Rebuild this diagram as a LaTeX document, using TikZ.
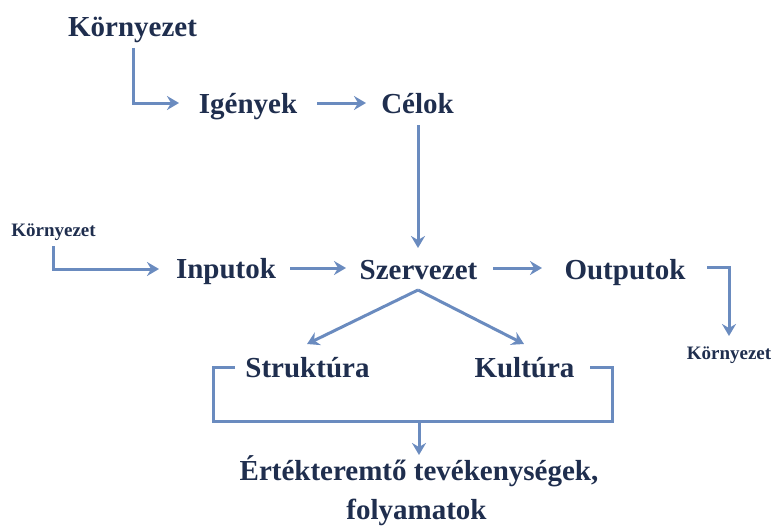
\documentclass[tikz,border=0pt]{standalone}
\usepackage{fontspec}
\setmainfont{Liberation Serif}
\usetikzlibrary{arrows.meta}
\definecolor{txt}{HTML}{1F2E4E}
\definecolor{ln}{HTML}{6A8BBF}
\tikzset{
  big/.style={inner sep=0pt, anchor=base, text=txt, font=\fontsize{29}{33}\selectfont\bfseries},
  small/.style={inner sep=0pt, anchor=base, text=txt, font=\fontsize{19}{22}\selectfont\bfseries},
  conn/.style={draw=ln, line width=3pt},
  arr/.style={conn, -{Stealth[length=12pt,width=14pt,inset=4pt]}}
}
\begin{document}
\begin{tikzpicture}[x=1pt,y=-1pt]
\useasboundingbox (0,0) rectangle (771,527);
% text nodes
\node[big] (kt) at (132.5,37) {Környezet};
\node[big] (ig) at (248,113) {Igények};
\node[big] (ce) at (417.5,113) {Célok};
\node[small] (kl) at (53.5,236) {Környezet};
\node[big] (in) at (226,278) {Inputok};
\node[big] (sz) at (418.5,279) {Szervezet};
\node[big] (ou) at (625,279) {Outputok};
\node[small] (kr) at (729,359) {Környezet};
\node[big] (st) at (307.5,377) {Struktúra};
\node[big] (ku) at (524.5,377) {Kultúra};
\node[big] (er) at (419,480) {Értékteremtő tevékenységek,};
\node[big] (fo) at (416.5,519) {folyamatok};
% connector end points
\coordinate (a1) at (133,48);
\coordinate (a2) at (133,103);
\coordinate (a3) at (179,103);
\coordinate (b1) at (317,103);
\coordinate (b2) at (366,103);
\coordinate (c1) at (418,125);
\coordinate (c2) at (418,248);
\coordinate (d1) at (53,246);
\coordinate (d2) at (53,269);
\coordinate (d3) at (159,269);
\coordinate (e1) at (290,268);
\coordinate (e2) at (346,268);
\coordinate (f1) at (493,268);
\coordinate (f2) at (542,268);
\coordinate (g1) at (707,267);
\coordinate (g2) at (729,267);
\coordinate (g3) at (729,336);
\coordinate (h0) at (418,290);
\coordinate (h1) at (307,344);
\coordinate (h2) at (524,344);
\coordinate (i1) at (235,367);
\coordinate (i2) at (213,367);
\coordinate (i3) at (213,421);
\coordinate (i4) at (612,421);
\coordinate (i5) at (612,367);
\coordinate (i6) at (590,367);
\coordinate (j1) at (419,421);
\coordinate (j2) at (419,455);
% connectors
\draw[arr] (a1) -- (a2) -- (a3);
\draw[arr] (b1) -- (b2);
\draw[arr] (c1) -- (c2);
\draw[arr] (d1) -- (d2) -- (d3);
\draw[arr] (e1) -- (e2);
\draw[arr] (f1) -- (f2);
\draw[arr] (g1) -- (g2) -- (g3);
\draw[arr] (h0) -- (h1);
\draw[arr] (h0) -- (h2);
\draw[conn] (i1) -- (i2) -- (i3) -- (i4) -- (i5) -- (i6);
\draw[arr] (j1) -- (j2);
\end{tikzpicture}
\end{document}
